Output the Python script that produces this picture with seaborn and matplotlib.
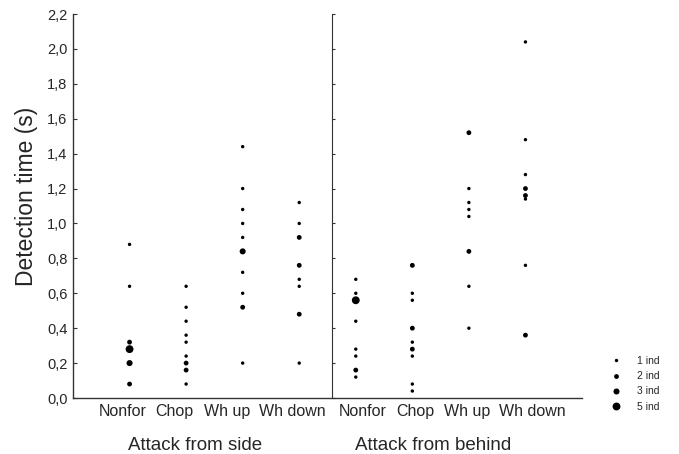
import matplotlib
matplotlib.use("Agg")
import matplotlib.pyplot as plt
import seaborn as sns
import pandas as pd
from matplotlib.lines import Line2D

# categories (two attack directions x four prey behaviours)
behaviours = ["Nonfor", "Chop", "Wh up", "Wh down"]
groups = ["Attack from side", "Attack from behind"]

# detection times (s) and number of individuals at each value
side_nonfor = [0.88, 0.64, 0.32, 0.28, 0.20, 0.08]
side_nonfor_n = [1, 1, 2, 5, 3, 2]
side_chop = [0.64, 0.52, 0.44, 0.36, 0.32, 0.24, 0.20, 0.16, 0.08]
side_chop_n = [1, 1, 1, 1, 1, 1, 2, 2, 1]
side_whup = [1.44, 1.20, 1.08, 1.00, 0.92, 0.84, 0.72, 0.60, 0.52, 0.20]
side_whup_n = [1, 1, 1, 1, 1, 3, 1, 1, 2, 1]
side_whdown = [1.12, 1.00, 0.92, 0.76, 0.68, 0.64, 0.48, 0.20]
side_whdown_n = [1, 1, 2, 2, 1, 1, 2, 1]

behind_nonfor = [0.68, 0.60, 0.56, 0.44, 0.28, 0.24, 0.16, 0.12]
behind_nonfor_n = [1, 1, 5, 1, 1, 1, 2, 1]
behind_chop = [0.76, 0.60, 0.56, 0.40, 0.32, 0.28, 0.24, 0.08, 0.04]
behind_chop_n = [2, 1, 1, 2, 1, 2, 1, 1, 1]
behind_whup = [1.52, 1.20, 1.12, 1.08, 1.04, 0.84, 0.64, 0.40]
behind_whup_n = [2, 1, 1, 1, 1, 2, 1, 1]
behind_whdown = [2.04, 1.48, 1.28, 1.20, 1.16, 1.14, 0.76, 0.36]
behind_whdown_n = [1, 1, 1, 2, 2, 1, 1, 2]

legend_counts = [1, 2, 3, 5]
legend_labels = ["1 ind", "2 ind", "3 ind", "5 ind"]

series = [
    (side_nonfor, side_nonfor_n), (side_chop, side_chop_n),
    (side_whup, side_whup_n), (side_whdown, side_whdown_n),
    (behind_nonfor, behind_nonfor_n), (behind_chop, behind_chop_n),
    (behind_whup, behind_whup_n), (behind_whdown, behind_whdown_n),
]
rows = []
for pos, (vals, ns) in enumerate(series):
    for v, n in zip(vals, ns):
        rows.append({"pos": pos, "time": v, "n": n})
df = pd.DataFrame(rows)

sns.set_style("white")
plt.rcParams["font.family"] = ["Liberation Sans", "DejaVu Sans"]

size_map = {1: 6, 2: 12, 3: 19, 5: 32}

fig = plt.figure(figsize=(6.79, 4.54), dpi=100)
ax = fig.add_axes([73 / 679, 1 - 398 / 454, 509 / 679, 384 / 454])
sns.scatterplot(data=df, x="pos", y="time", size="n", sizes=size_map,
                color="black", edgecolor="none", linewidth=0, legend=False, ax=ax)

ax.set_xlim(-1, 8)
ax.set_ylim(0, 2.2)
yt = [i * 0.2 for i in range(12)]
ax.set_yticks(yt)
ax.set_yticklabels([f"{v:.1f}".replace(".", ",") for v in yt], fontsize=10.5)
ax.set_xticks(range(8))
ax.set_xticklabels([])
ax.tick_params(axis="both", direction="in", length=3, width=0.8, color="#333333", pad=4)
ax.set_xlabel("")
ax.set_ylabel("Detection time (s)", fontsize=16.5)
ax.yaxis.set_label_coords(-0.068, 0.525)
for s in ["top", "right"]:
    ax.spines[s].set_visible(False)
for s in ["left", "bottom"]:
    ax.spines[s].set_color("#333333")
    ax.spines[s].set_linewidth(1.0)

# category labels sit slightly off their ticks in the original
label_shift = [-0.12, -0.2, -0.28, -0.13, 0.13, 0.05, -0.03, 0.13]
for i, (lab, dx) in enumerate(zip(behaviours * 2, label_shift)):
    ax.text(i + dx, -0.036, lab, transform=ax.get_xaxis_transform(), ha="center",
            va="center", fontsize=11.5)

# divider between the two attack directions, with its own inward ticks
ax2 = ax.twinx()
ax2.set_ylim(0, 2.2)
ax2.set_yticks(yt)
for s in ["top", "right", "bottom"]:
    ax2.spines[s].set_visible(False)
ax2.spines["left"].set_visible(True)
ax2.spines["left"].set_position(("data", 3.58))
ax2.spines["left"].set_color("#333333")
ax2.yaxis.set_ticks_position("left")
ax2.tick_params(axis="y", direction="in", length=2, width=0.8, color="#333333", labelleft=False)

for gx, g in zip([1.16, 5.36], groups):
    ax.text(gx, -0.124, g, transform=ax.get_xaxis_transform(), ha="center", va="center",
            fontsize=13.5)

handles = [Line2D([], [], marker="o", linestyle="none", color="black",
                  markersize=size_map[c] ** 0.5, markeredgewidth=0) for c in legend_counts]
fig.legend(handles, legend_labels, loc="lower left", bbox_to_anchor=(606 / 679, 0.082),
           frameon=False, fontsize=7.5, borderpad=0, handlelength=1, handletextpad=1.5,
           labelspacing=0.5)

fig.savefig("out.png", dpi=100)
